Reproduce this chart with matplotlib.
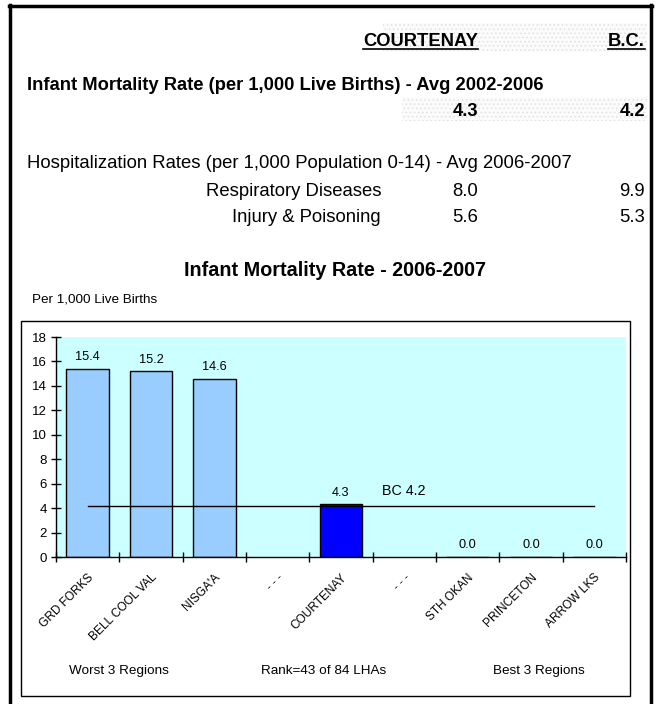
import matplotlib.pyplot as plt
from matplotlib.patches import Rectangle
from matplotlib.lines import Line2D
from matplotlib.transforms import ScaledTranslation
import numpy as np

plt.rcParams['font.family'] = ['Liberation Sans', 'DejaVu Sans']
plt.rcParams['hatch.linewidth'] = 0.6

# summary table at the top
col_heads = ['COURTENAY', 'B.C.']
imr_title = 'Infant Mortality Rate (per 1,000 Live Births) - Avg 2002-2006'
imr_local = 4.3
imr_bc = 4.2
hosp_title = 'Hospitalization Rates (per 1,000 Population 0-14) - Avg 2006-2007'
hosp_rows = ['Respiratory Diseases', 'Injury & Poisoning']
hosp_local = [8.0, 5.6]
hosp_bc = [9.9, 5.3]

# bar chart
regions = ['GRD FORKS', 'BELL COOL VAL', "NISGA'A", '- - -', 'COURTENAY',
           '- - -', 'STH OKAN', 'PRINCETON', 'ARROW LKS']
rates = [15.4, 15.2, 14.6, np.nan, 4.3, np.nan, 0.0, 0.0, 0.0]
bc_rate = 4.2
group_labels = ['Worst 3 Regions', 'Rank=43 of 84 LHAs', 'Best 3 Regions']

W, H = 660, 704
fig = plt.figure(figsize=(W / 100, H / 100), dpi=100)


def fx(px):
    return px / W


def fy(py):
    return 1 - py / H


# outer frame (open at the bottom)
for xs, ys in [([10, 10], [5, 710]), ([651, 651], [5, 710]), ([9, 652], [6, 6])]:
    fig.add_artist(Line2D([fx(v) for v in xs], [fy(v) for v in ys], color='black', lw=2.5))

# dotted shading behind the columns
for x0, y0, x1, y1 in [(383, 23, 647, 52), (402, 97, 647, 121)]:
    fig.add_artist(Rectangle((fx(x0), fy(y1)), fx(x1) - fx(x0), fy(y0) - fy(y1),
                             facecolor='#fbfbfb', edgecolor='#e0e0e0', lw=0, hatch='....'))

head_texts = []
head_texts.append(fig.text(fx(478), fy(42), col_heads[0], ha='right', va='center',
                           fontsize=13.2, fontweight='bold'))
head_texts.append(fig.text(fx(645), fy(42), col_heads[1], ha='right', va='center',
                           fontsize=13.2, fontweight='bold'))

fig.text(fx(27), fy(85), imr_title, ha='left', va='center', fontsize=13.2, fontweight='bold')
fig.text(fx(478), fy(111), f'{imr_local:.1f}', ha='right', va='center', fontsize=13.2, fontweight='bold')
fig.text(fx(645), fy(111), f'{imr_bc:.1f}', ha='right', va='center', fontsize=13.2, fontweight='bold')

fig.text(fx(27), fy(164), hosp_title, ha='left', va='center', fontsize=13.3)
for i, name in enumerate(hosp_rows):
    yy = fy(191 + i * 27)
    fig.text(fx(381), yy, name, ha='right', va='center', fontsize=13.3)
    fig.text(fx(478), yy, f'{hosp_local[i]:.1f}', ha='right', va='center', fontsize=13.3)
    fig.text(fx(645), yy, f'{hosp_bc[i]:.1f}', ha='right', va='center', fontsize=13.3)

fig.text(fx(335), fy(270), 'Infant Mortality Rate - 2006-2007', ha='center', va='center',
         fontsize=14.2, fontweight='bold')
fig.text(fx(32), fy(300), 'Per 1,000 Live Births', ha='left', va='center', fontsize=9.7)

# chart border
fig.add_artist(Rectangle((fx(21), fy(696)), fx(630) - fx(21), fy(321) - fy(696),
                         facecolor='none', edgecolor='black', lw=1))

ax = fig.add_axes([fx(56), fy(557), fx(626) - fx(56), fy(337) - fy(557)])
ax.set_facecolor('#ccffff')
x = np.arange(len(regions))
colors = ['#99ccff'] * len(regions)
colors[regions.index('COURTENAY')] = '#0000ff'
ax.bar(x, rates, width=0.67, color=colors, edgecolor='black', linewidth=1, zorder=2)
ax.plot([x[0], x[-1]], [bc_rate, bc_rate], color='black', lw=1, zorder=3)
ax.text(4.65, bc_rate + 1.2, f'BC {bc_rate}', ha='left', va='center', fontsize=10.3)

for xi, v in zip(x, rates):
    if np.isnan(v):
        continue
    ax.annotate(f'{v:.1f}', (xi, v), xytext=(0, 4), textcoords='offset points',
                ha='center', va='bottom', fontsize=9.2)

ax.set_xlim(-0.5, len(regions) - 0.5)
ax.set_ylim(0, 18)
ax.set_yticks(range(0, 19, 2))
ax.set_xticks(np.arange(-0.5, len(regions), 1))
ax.set_xticklabels([])
ax.set_xticks(x, minor=True)
ax.set_xticklabels(regions, minor=True, rotation=45, ha='right', rotation_mode='anchor', fontsize=8.6)
shift = ScaledTranslation(-5 / 100, 0, fig.dpi_scale_trans)
for lab in ax.get_xticklabels(minor=True):
    lab.set_transform(lab.get_transform() + shift)
ax.tick_params(axis='x', which='major', direction='inout', length=7, width=1)
ax.tick_params(axis='x', which='minor', length=0, pad=10.5)
ax.tick_params(axis='y', direction='inout', length=7, width=1, labelsize=9.5, pad=3)
for s in ['top', 'right']:
    ax.spines[s].set_visible(False)
for s in ['left', 'bottom']:
    ax.spines[s].set_linewidth(1)

for px, lab in zip([119, 324, 539], group_labels):
    fig.text(fx(px), fy(671), lab, ha='center', va='center', fontsize=9.7)

# underline the column headings
fig.canvas.draw()
inv = fig.transFigure.inverted()
for t in head_texts:
    bb = t.get_window_extent()
    (x0, y0), (x1, _) = inv.transform([(bb.x0, bb.y0), (bb.x1, bb.y0)])
    fig.add_artist(Line2D([x0, x1], [y0 + 1.5 / H, y0 + 1.5 / H], color='black', lw=1.2))

fig.savefig('out.png', dpi=100)
